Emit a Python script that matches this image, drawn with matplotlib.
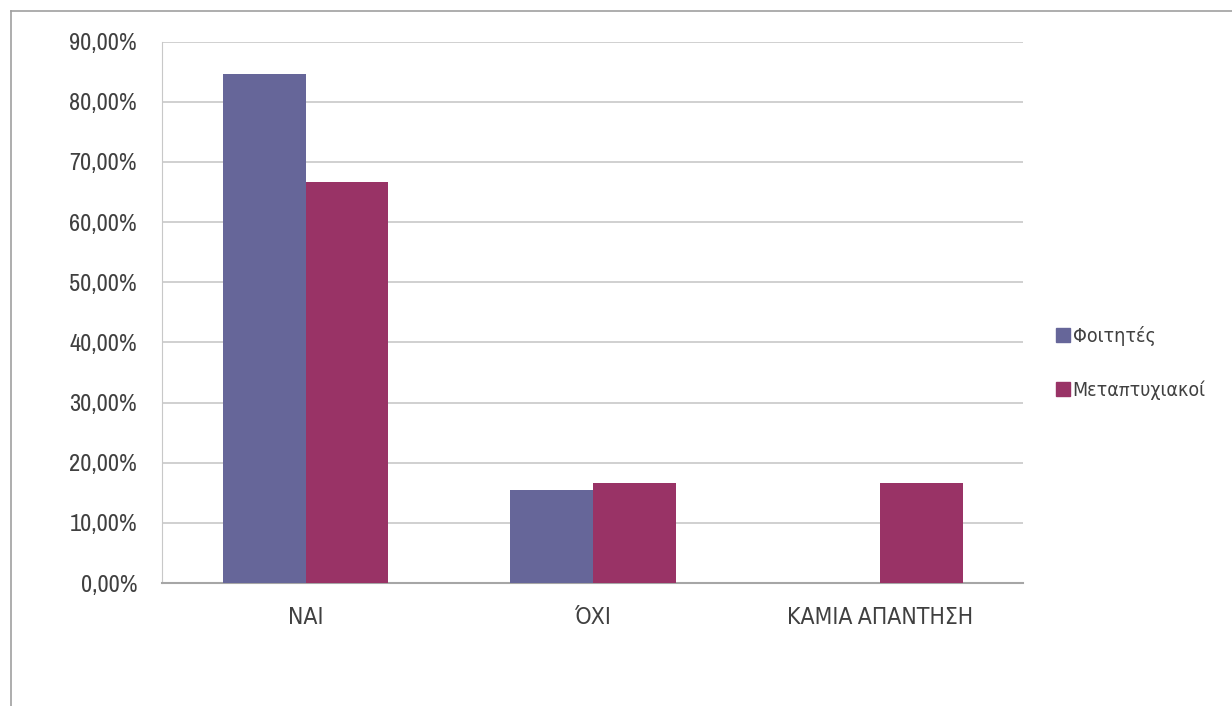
import numpy as np
import matplotlib.pyplot as plt
from matplotlib.ticker import FuncFormatter
from matplotlib.lines import Line2D
from matplotlib import font_manager

# look for a narrow font, else fall back
names = sorted(set(f.name for f in font_manager.fontManager.ttflist))
narrow = [n for n in names if 'Narrow' in n or 'Condensed' in n]
plt.rcParams['font.family'] = narrow[:1] + ['DejaVu Sans']
plt.rcParams['font.stretch'] = 'condensed'

#data
categories = ["ΝΑΙ", "ΌΧΙ", "ΚΑΜΙΑ ΑΠΑΝΤΗΣΗ"]
series_names = ["Φοιτητές", "Μεταπτυχιακοί"]
foitites = [84.62, 15.38, 0.0]
metaptyxiakoi = [66.67, 16.67, 16.67]
colors = ["#666699", "#993366"]

fig = plt.figure(figsize=(12.32, 7.06), dpi=100)
ax = fig.add_axes([0.1315, 0.1742, 0.699, 0.767])

x = np.arange(len(categories))
w = 0.289
ax.bar(x - w/2, foitites, width=w, color=colors[0], label=series_names[0], zorder=3)
ax.bar(x + w/2, metaptyxiakoi, width=w, color=colors[1], label=series_names[1], zorder=3)

ax.set_xlim(-0.5, len(categories) - 0.5)
ax.set_ylim(0, 90)
ax.set_yticks(np.arange(0, 91, 10))
ax.yaxis.set_major_formatter(FuncFormatter(lambda v, p: f"{v:.2f}%".replace('.', ',')))
ax.set_xticks(x)
ax.set_xticklabels(categories)
ax.tick_params(axis='both', length=0, labelsize=17.5, colors='#404040')
ax.tick_params(axis='y', pad=18)
ax.tick_params(axis='x', pad=18, labelsize=16.5)

ax.grid(axis='y', color='#c8c8c8', linewidth=1.2, zorder=0)
for s in ['top', 'right']:
    ax.spines[s].set_visible(False)
ax.spines['left'].set_color('#c8c8c8')
ax.spines['bottom'].set_color('#a6a6a6')
ax.spines['bottom'].set_linewidth(1.5)

handles = [Line2D([], [], marker='s', linestyle='', markersize=10, color=c) for c in colors]
fig.legend(handles, series_names, loc='center left', bbox_to_anchor=(0.858, 0.486),
           frameon=False, fontsize=14, handlelength=0.6, handletextpad=0.2,
           labelspacing=1.8, borderpad=0, borderaxespad=0, labelcolor='#404040')

# outer chart border (top and left)
fig.add_artist(Line2D([0.0087, 1.0], [0.985, 0.985], color='#a0a0a0', linewidth=1.2))
fig.add_artist(Line2D([0.0087, 0.0087], [0.0, 0.985], color='#a0a0a0', linewidth=1.2))

plt.savefig("out.png", dpi=100)
